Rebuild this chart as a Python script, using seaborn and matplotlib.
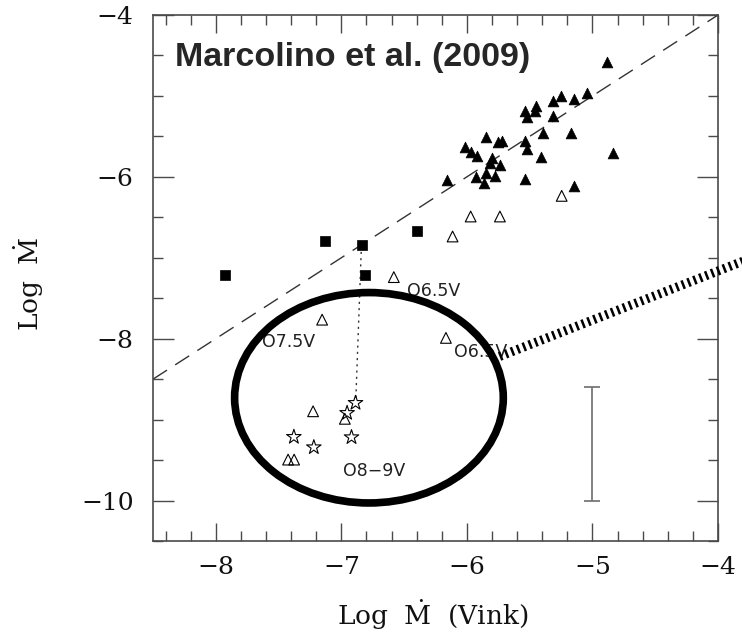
import matplotlib
matplotlib.use("Agg")
import matplotlib.pyplot as plt
from matplotlib.patches import Ellipse
import seaborn as sns
import numpy as np

# ---------------- data ----------------
filled_tri_x = [-4.887, -5.253, -5.046, -5.312, -5.147, -5.45, -5.538, -5.458, -5.524, -5.317,
                -5.392, -5.174, -5.538, -5.524, -5.849, -5.75, -5.72, -6.016, -5.97, -5.923,
                -5.803, -5.817, -5.737, -5.413, -4.84, -5.928, -5.849, -5.777, -5.865, -6.157,
                -5.538, -5.147]
filled_tri_y = [-4.577, -4.996, -4.967, -5.058, -5.04, -5.12, -5.185, -5.19, -5.263, -5.247,
                -5.453, -5.453, -5.552, -5.654, -5.51, -5.565, -5.56, -5.633, -5.687, -5.737,
                -5.769, -5.83, -5.852, -5.75, -5.7, -5.996, -5.954, -5.984, -6.07, -6.04,
                -6.025, -6.11]

square_x = [-7.928, -7.131, -6.839, -6.401, -6.813]
square_y = [-7.218, -6.79, -6.843, -6.675, -7.218]

open_tri_x = [-5.245, -5.97, -5.737, -6.114, -6.582, -7.153, -6.167, -7.225, -6.972, -7.424, -7.376]
open_tri_y = [-6.235, -6.49, -6.49, -6.737, -7.239, -7.765, -7.99, -8.897, -8.99, -9.494, -9.494]

star_x = [-6.887, -6.954, -6.919, -7.378, -7.219]
star_y = [-8.794, -8.918, -9.218, -9.214, -9.342]

# dotted connector between a square and a star
link_x = [-6.84, -6.885]
link_y = [-6.85, -8.77]

# one-to-one relation
ref_x = [-8.5, -4.0]
ref_y = [-8.5, -4.0]

# spectral-type annotations
label_texts = ["O6.5V", "O7.5V", "O6.5V", "O8\u22129V"]
label_x = [-6.48, -7.63, -6.10, -6.99]
label_y = [-7.41, -8.04, -8.17, -9.63]

# typical error bar
err_x = [-5.0]
err_y = [-9.3]
err_half = [0.7]

# highlight ellipse (center x, center y, width, height)
ell_center = (-6.78, -8.73)
ell_w, ell_h = 2.14, 2.60
# pointer line from ellipse out of the frame
ptr_x = [-5.74, -3.78]
ptr_y = [-8.22, -7.03]

xticks = [-8, -7, -6, -5, -4]
xtick_labels = ["\u22128", "\u22127", "\u22126", "\u22125", "\u22124"]
yticks = [-10, -8, -6, -4]
ytick_labels = ["\u221210", "\u22128", "\u22126", "\u22124"]

title_text = "Marcolino et al. (2009)"
xlabel_text = r"$\mathrm{Log}\ \ \dot{\mathrm{M}}\ \ \mathrm{(Vink)}$"
ylabel_text = r"$\mathrm{Log}\ \ \dot{\mathrm{M}}$"

# ---------------- figure ----------------
sns.set_theme(style="ticks")
plt.rcParams["mathtext.fontset"] = "dejavuserif"
plt.rcParams["font.family"] = ["DejaVu Serif"]

fig = plt.figure(figsize=(7.42, 6.33), dpi=100)
ax = fig.add_axes([153/742, 1-541/633, (718-153)/742, (541-15)/633])

spine_col = "#4a4a4a"

sns.lineplot(x=ref_x, y=ref_y, ax=ax, color="#333333", lw=1.0, linestyle=(0, (12, 7)), zorder=1)
sns.lineplot(x=link_x, y=link_y, ax=ax, color="#333333", lw=1.0, linestyle=(0, (1.5, 3)), zorder=1,
             sort=False)

sns.scatterplot(x=filled_tri_x, y=filled_tri_y, ax=ax, marker="^", s=60, color="black",
                edgecolor="black", linewidth=0.5, zorder=3)
sns.scatterplot(x=square_x, y=square_y, ax=ax, marker="s", s=48, color="black",
                edgecolor="black", linewidth=0.5, zorder=3)
ax.scatter(open_tri_x, open_tri_y, marker="^", s=60, facecolors="none",
           edgecolors="black", linewidths=0.8, zorder=3)
ax.scatter(star_x, star_y, marker="*", s=120, facecolors="none",
           edgecolors="black", linewidths=0.8, zorder=3)

for t, x, y in zip(label_texts, label_x, label_y):
    ax.text(x, y, t, fontsize=12.5, ha="left", va="center", color="#222222",
            family=["DejaVu Sans"], zorder=2)

ax.errorbar(err_x, err_y, yerr=err_half, fmt="none", ecolor="#777777", elinewidth=1.3,
            capsize=6, capthick=1.3, zorder=2)

ell = Ellipse(ell_center, ell_w, ell_h, fill=False, edgecolor="black", lw=5.5, zorder=5)
ax.add_patch(ell)
ax.plot(ptr_x, ptr_y, color="black", lw=6.5, linestyle=(0, (0.28, 0.42)),
        solid_capstyle="butt", dash_capstyle="butt", clip_on=False, zorder=5)

ax.text(0.039, 0.92, title_text, transform=ax.transAxes, fontsize=24.5, fontweight="bold",
        ha="left", va="center", family=["Liberation Sans", "DejaVu Sans"], zorder=6)

ax.set_xlim(-8.5, -4.0)
ax.set_ylim(-10.5, -4.0)
ax.set_xticks(xticks, labels=xtick_labels)
ax.set_yticks(yticks, labels=ytick_labels)
ax.set_xticks(np.arange(-8.4, -4.0, 0.2), minor=True)
ax.set_yticks(np.arange(-10.5, -4.0, 0.5), minor=True)

ax.tick_params(which="both", direction="in", top=True, right=True, color=spine_col, width=1.0,
               labelsize=18, labelcolor="#111111")
ax.tick_params(axis="x", which="major", length=13, pad=11)
ax.tick_params(axis="x", which="minor", length=7)
ax.tick_params(axis="y", which="major", length=15, pad=14)
ax.tick_params(axis="y", which="minor", length=7)

for sp in ax.spines.values():
    sp.set_color(spine_col)
    sp.set_linewidth(1.2)
    sp.set_visible(True)

ax.set_xlabel(xlabel_text, fontsize=19, color="#111111")
ax.set_ylabel(ylabel_text, fontsize=19, color="#111111")
ax.xaxis.set_label_coords(0.495, -0.108)
ax.yaxis.set_label_coords(-0.19, 0.49)

fig.savefig("out.png", dpi=100, facecolor="white")
